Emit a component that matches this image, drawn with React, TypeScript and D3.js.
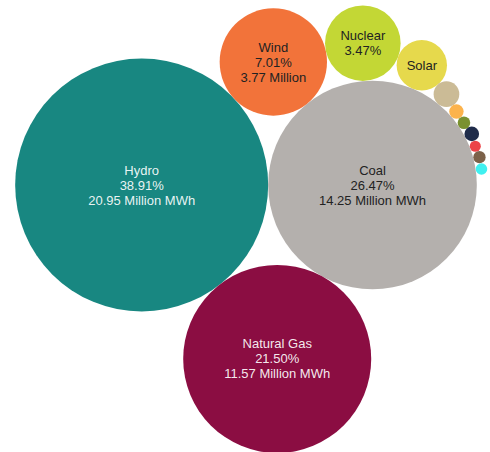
import React, { useMemo } from 'react';
import * as d3 from 'd3';

const WIDTH = 490;
const HEIGHT = 452;

// Electricity generation by source (million MWh) and share (%)
const sources = [
  'Hydro', 'Coal', 'Natural Gas', 'Wind', 'Nuclear', 'Solar',
  'Biomass', 'Petroleum', 'Geothermal', 'Other Gases', 'Other', 'Wood', 'Pumped Storage',
];
const valuesMWh = [20.95, 14.25, 11.57, 3.77, 1.87, 0.83, 0.215, 0.068, 0.052, 0.07, 0.04, 0.05, 0.044];
const percents = [38.91, 26.47, 21.5, 7.01, 3.47, 1.54, 0.4, 0.13, 0.1, 0.13, 0.07, 0.09, 0.08];
const colors = [
  '#188781', '#b4b0ad', '#8b0d42', '#f2733a', '#c3d735', '#e6d94c',
  '#cbbb96', '#fcb34c', '#7a9130', '#1f2c4a', '#ec4449', '#7c6149', '#40f0f0',
];
const lightText = [true, false, true, false, false, false, false, false, false, false, false, false, false];

type Bubble = { x: number; y: number; r: number; i: number };

// place circle c tangent to a and b (clockwise side of a→b)
function tangent(a: Bubble, b: Bubble, c: Bubble) {
  const dx = b.x - a.x;
  const dy = b.y - a.y;
  const d = Math.hypot(dx, dy);
  const ux = dx / d;
  const uy = dy / d;
  const da = a.r + c.r;
  const db = b.r + c.r;
  const x = (d * d + da * da - db * db) / (2 * d);
  const h = Math.sqrt(Math.max(0, da * da - x * x));
  const px = -uy;
  const py = ux;
  c.x = a.x + x * ux - h * px;
  c.y = a.y + x * uy - h * py;
}

export default function App() {
  const bubbles = useMemo(() => {
    const rScale = d3.scaleSqrt().domain([0, d3.max(valuesMWh) as number]).range([0, 126.5]);
    const circles: Bubble[] = valuesMWh.map((v, i) => ({ x: 0, y: 0, r: rScale(v), i }));
    const [hydro, coal] = circles;
    hydro.x = -coal.r;
    coal.x = hydro.r;
    tangent(coal, hydro, circles[2]);
    tangent(hydro, coal, circles[3]);
    for (let i = 4; i < circles.length; i++) tangent(circles[i - 1], coal, circles[i]);
    return circles;
  }, []);

  const cx = WIDTH / 2 + 1;
  const cy = 185;

  const labelLines = (b: Bubble): string[] => {
    const i = b.i;
    const name = sources[i];
    const pct = percents[i].toFixed(2) + '%';
    const val = valuesMWh[i].toFixed(2) + ' Million';
    if (b.r > 80) return [name, pct, val + ' MWh'];
    if (b.r > 45) return [name, pct, val];
    if (b.r > 30) return [name, pct];
    if (b.r > 18) return [name];
    return [];
  };

  return (
    <svg
      width={WIDTH}
      height={HEIGHT}
      style={{ position: 'absolute', left: 0, top: 0, background: '#fff' }}
      fontFamily="'Liberation Sans', Arial, sans-serif"
      fontSize={13}
    >
      <g transform={`translate(${cx},${cy})`}>
        {bubbles.map((b) => (
          <circle key={'c' + b.i} cx={b.x} cy={b.y} r={b.r} fill={colors[b.i]} />
        ))}
        {bubbles.map((b) => {
          const lines = labelLines(b);
          const n = lines.length;
          return (
            <text
              key={'t' + b.i}
              x={b.x}
              y={b.y}
              textAnchor="middle"
              fill={lightText[b.i] ? 'rgba(255,255,255,0.92)' : '#222'}
            >
              {lines.map((l, k) => (
                <tspan key={k} x={b.x} y={b.y + (k - (n - 1) / 2) * 15} dy="0.35em">
                  {l}
                </tspan>
              ))}
            </text>
          );
        })}
      </g>
    </svg>
  );
}
